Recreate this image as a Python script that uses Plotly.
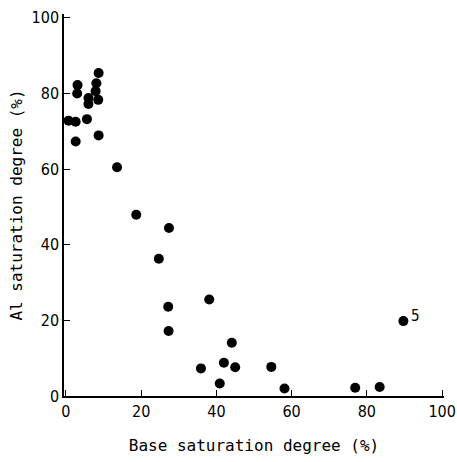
import plotly.graph_objects as go

base_sat = [8.7, 3.1, 8.1, 3.0, 7.9, 6.0, 8.6, 6.0, 0.7, 2.6, 5.6, 2.6, 8.7,
            13.6, 18.7, 27.4, 24.7, 38.1, 27.2, 27.3, 44.1, 42.0, 35.9, 45.0, 40.9,
            89.7, 54.6, 58.1, 76.9, 83.4]
al_sat = [85.4, 82.2, 82.7, 80.0, 80.6, 78.8, 78.3, 77.2, 72.8, 72.5, 73.2, 67.3, 68.9,
          60.5, 47.9, 44.4, 36.3, 25.5, 23.6, 17.2, 14.1, 8.8, 7.3, 7.6, 3.3,
          19.8, 7.7, 2.0, 2.2, 2.4]
tick_vals = [0, 20, 40, 60, 80, 100]
label_point = {"x": 89.7, "y": 19.8, "text": "5"}

fig = go.Figure()
fig.add_trace(go.Scatter(x=base_sat, y=al_sat, mode="markers",
                         marker=dict(color="black", size=10),
                         showlegend=False, hoverinfo="skip"))

fig.add_annotation(x=label_point["x"], y=label_point["y"], text=label_point["text"],
                   showarrow=False, xshift=12, yshift=5,
                   font=dict(family="DejaVu Sans Condensed", size=15, color="black"))

tickfont = dict(family="DejaVu Sans Condensed", size=16, color="black")
titlefont = dict(family="DejaVu Sans Mono", size=16, color="black")

fig.update_xaxes(range=[-0.5, 100.5], tickvals=tick_vals, ticks="inside", ticklen=6,
                 tickcolor="black", showline=True, linecolor="black", linewidth=1.5,
                 showgrid=False, zeroline=False, tickfont=tickfont, automargin=False,
                 ticklabeloverflow="allow",
                 title=dict(text="Base saturation degree (%)", font=titlefont, standoff=20))
fig.update_yaxes(range=[0, 101], tickvals=tick_vals, ticks="inside", ticklen=6,
                 tickcolor="black", showline=True, linecolor="black", linewidth=1.5,
                 showgrid=False, zeroline=False, tickfont=tickfont, automargin=False,
                 ticklabeloverflow="allow",
                 title=dict(text="Al saturation degree (%)", font=titlefont, standoff=5))

fig.update_layout(width=457, height=462, plot_bgcolor="white", paper_bgcolor="white",
                  margin=dict(l=64, r=13, t=14, b=66))

fig.write_html("out.html", config={"displayModeBar": False},
               post_script="document.body.style.margin='0';document.body.style.overflow='hidden';")
